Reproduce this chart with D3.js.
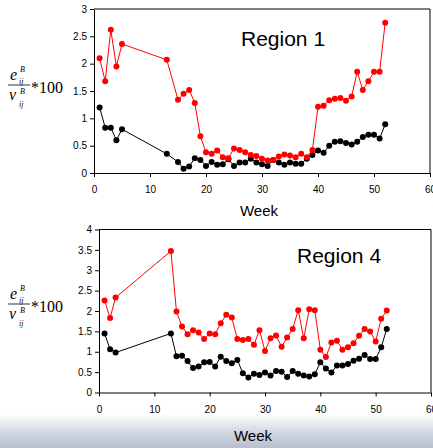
<!DOCTYPE html>
<html>
<head>
<meta charset="utf-8">
<script src="https://cdn.jsdelivr.net/npm/d3@7"></script>
<style>
  body { margin: 0; background: #fff; }
  svg { display: block; }
  .tick text { font-family: Arial, "Liberation Sans", sans-serif; font-size: 10px; fill: #000; }
  .axis path, .axis line { stroke: #000; }
</style>
</head>
<body>
<div id="chart-container"></div>
<script>
// two stacked weekly charts, red = upper series, black = lower series
const svgWidth = 433;
const svgHeight = 448;

// Region 1
const weeks1 = [1, 2, 3, 4, 5, 13, 15, 16, 17, 18, 19, 20, 21, 22, 23, 24, 25, 26, 27, 28, 29, 30, 31, 32, 33, 34, 35, 36, 37, 38, 39, 40, 41, 42, 43, 44, 45, 46, 47, 48, 49, 50, 51, 52];
const red1 = [2.10, 1.68, 2.62, 1.95, 2.36, 2.07, 1.34, 1.45, 1.52, 1.28, 0.67, 0.38, 0.35, 0.41, 0.29, 0.27, 0.45, 0.42, 0.38, 0.33, 0.31, 0.26, 0.23, 0.24, 0.30, 0.34, 0.32, 0.29, 0.35, 0.29, 0.42, 1.21, 1.23, 1.33, 1.36, 1.37, 1.32, 1.40, 1.85, 1.52, 1.68, 1.85, 1.85, 2.75];
const black1 = [1.20, 0.83, 0.83, 0.60, 0.80, 0.35, 0.20, 0.08, 0.12, 0.27, 0.24, 0.13, 0.20, 0.15, 0.16, 0.25, 0.13, 0.19, 0.19, 0.26, 0.19, 0.16, 0.13, 0.24, 0.19, 0.15, 0.19, 0.17, 0.17, 0.26, 0.33, 0.41, 0.37, 0.50, 0.57, 0.58, 0.55, 0.52, 0.57, 0.66, 0.70, 0.70, 0.63, 0.89];

// Region 4
const weeks4 = [1, 2, 3, 13, 14, 15, 16, 17, 18, 19, 20, 21, 22, 23, 24, 25, 26, 27, 28, 29, 30, 31, 32, 33, 34, 35, 36, 37, 38, 39, 40, 41, 42, 43, 44, 45, 46, 47, 48, 49, 50, 51, 52];
const red4 = [2.26, 1.83, 2.33, 3.47, 1.99, 1.62, 1.43, 1.53, 1.47, 1.31, 1.45, 1.43, 1.70, 1.91, 1.84, 1.31, 1.29, 1.31, 1.17, 1.53, 1.02, 1.33, 1.40, 1.12, 1.35, 1.56, 2.02, 1.33, 2.04, 2.02, 1.05, 0.87, 1.23, 1.27, 1.05, 1.11, 1.21, 1.39, 1.56, 1.50, 1.25, 1.81, 2.01];
const black4 = [1.45, 1.06, 0.98, 1.45, 0.89, 0.90, 0.77, 0.60, 0.64, 0.74, 0.75, 0.64, 0.88, 0.77, 0.72, 0.80, 0.47, 0.37, 0.46, 0.43, 0.49, 0.42, 0.53, 0.51, 0.38, 0.53, 0.46, 0.42, 0.39, 0.45, 0.74, 0.59, 0.49, 0.66, 0.66, 0.70, 0.78, 0.83, 0.92, 0.82, 0.82, 1.11, 1.56];

const xTicks = [0, 10, 20, 30, 40, 50, 60];
const yTicks1 = [0, 0.5, 1, 1.5, 2, 2.5, 3];
const yTicks4 = [0, 0.5, 1, 1.5, 2, 2.5, 3, 3.5, 4];

const svg = d3.select("#chart-container")
    .append("svg")
    .attr("width", svgWidth)
    .attr("height", svgHeight);

// slide-ish gradient strip at the bottom
const defs = svg.append("defs");
const grad = defs.append("linearGradient")
    .attr("id", "fade")
    .attr("x1", 0).attr("y1", 0).attr("x2", 0).attr("y2", 1);
grad.append("stop").attr("offset", "0%").attr("stop-color", "#ffffff");
grad.append("stop").attr("offset", "60%").attr("stop-color", "#cdd2de");
grad.append("stop").attr("offset", "100%").attr("stop-color", "#b7bed0");
svg.append("rect")
    .attr("x", 0).attr("y", 414)
    .attr("width", svgWidth).attr("height", svgHeight - 414)
    .attr("fill", "url(#fade)");

function drawPanel(opt) {
    const x = d3.scaleLinear().domain([0, 60]).range([opt.left, opt.right]);
    const y = d3.scaleLinear().domain([0, opt.yMax]).range([opt.bottom, opt.top]);

    const g = svg.append("g");

    // box on top and right
    g.append("path")
        .attr("d", `M${opt.left},${opt.top}H${opt.right}V${opt.bottom}`)
        .attr("fill", "none")
        .attr("stroke", "#000")
        .attr("stroke-width", 1);

    g.append("g")
        .attr("class", "axis")
        .attr("transform", `translate(0,${opt.bottom})`)
        .call(d3.axisBottom(x).tickValues(xTicks).tickSize(4).tickSizeOuter(0).tickPadding(9));

    g.append("g")
        .attr("class", "axis")
        .attr("transform", `translate(${opt.left},0)`)
        .call(d3.axisLeft(y).tickValues(opt.yTicks).tickSize(4).tickSizeOuter(0).tickPadding(3)
            .tickFormat(d => String(d)));

    const line = d3.line()
        .x(d => x(d[0]))
        .y(d => y(d[1]));

    [[opt.black, "#000"], [opt.red, "#ff0000"]].forEach(function (s) {
        const pts = opt.weeks.map((w, i) => [w, s[0][i]]);
        g.append("path")
            .datum(pts)
            .attr("d", line)
            .attr("fill", "none")
            .attr("stroke", s[1])
            .attr("stroke-width", 1);
        g.selectAll(null)
            .data(pts)
            .enter()
            .append("circle")
            .attr("cx", d => x(d[0]))
            .attr("cy", d => y(d[1]))
            .attr("r", 3)
            .attr("fill", s[1]);
    });

    g.append("text")
        .text(opt.title)
        .attr("x", opt.titleX)
        .attr("y", opt.titleY)
        .attr("font-family", "Arial, 'Liberation Sans', sans-serif")
        .attr("font-size", 21);

    g.append("text")
        .text("Week")
        .attr("x", opt.weekX)
        .attr("y", opt.weekY)
        .attr("text-anchor", "middle")
        .attr("font-family", "Arial, 'Liberation Sans', sans-serif")
        .attr("font-size", 15);

    // y label: e_ij^B / v_ij^B *100
    const lab = g.append("g")
        .attr("transform", `translate(8,${opt.labelY})`)
        .attr("font-family", "'Times New Roman', 'Liberation Serif', serif")
        .attr("font-style", "italic");
    lab.append("text").text("e").attr("x", 2).attr("y", -5).attr("font-size", 16);
    lab.append("text").text("B").attr("x", 12).attr("y", -13).attr("font-size", 8);
    lab.append("text").text("ij").attr("x", 11).attr("y", -1).attr("font-size", 8);
    lab.append("line")
        .attr("x1", 0).attr("x2", 22).attr("y1", 0).attr("y2", 0)
        .attr("stroke", "#000").attr("stroke-width", 0.8);
    lab.append("text").text("v").attr("x", 1).attr("y", 15).attr("font-size", 16);
    lab.append("text").text("B").attr("x", 12).attr("y", 9).attr("font-size", 8);
    lab.append("text").text("ij").attr("x", 11).attr("y", 22).attr("font-size", 8);
    lab.append("text").text("*100")
        .attr("x", 23).attr("y", 8)
        .attr("font-style", "normal")
        .attr("font-size", 16);
}

drawPanel({
    left: 94, right: 430, top: 9, bottom: 173, yMax: 3, yTicks: yTicks1,
    weeks: weeks1, red: red1, black: black1,
    title: "Region 1", titleX: 241, titleY: 46,
    weekX: 259, weekY: 216, labelY: 85
});

drawPanel({
    left: 99, right: 431, top: 229.5, bottom: 392.5, yMax: 4, yTicks: yTicks4,
    weeks: weeks4, red: red4, black: black4,
    title: "Region 4", titleX: 297, titleY: 263,
    weekX: 253, weekY: 441, labelY: 304
});
</script>
</body>
</html>
